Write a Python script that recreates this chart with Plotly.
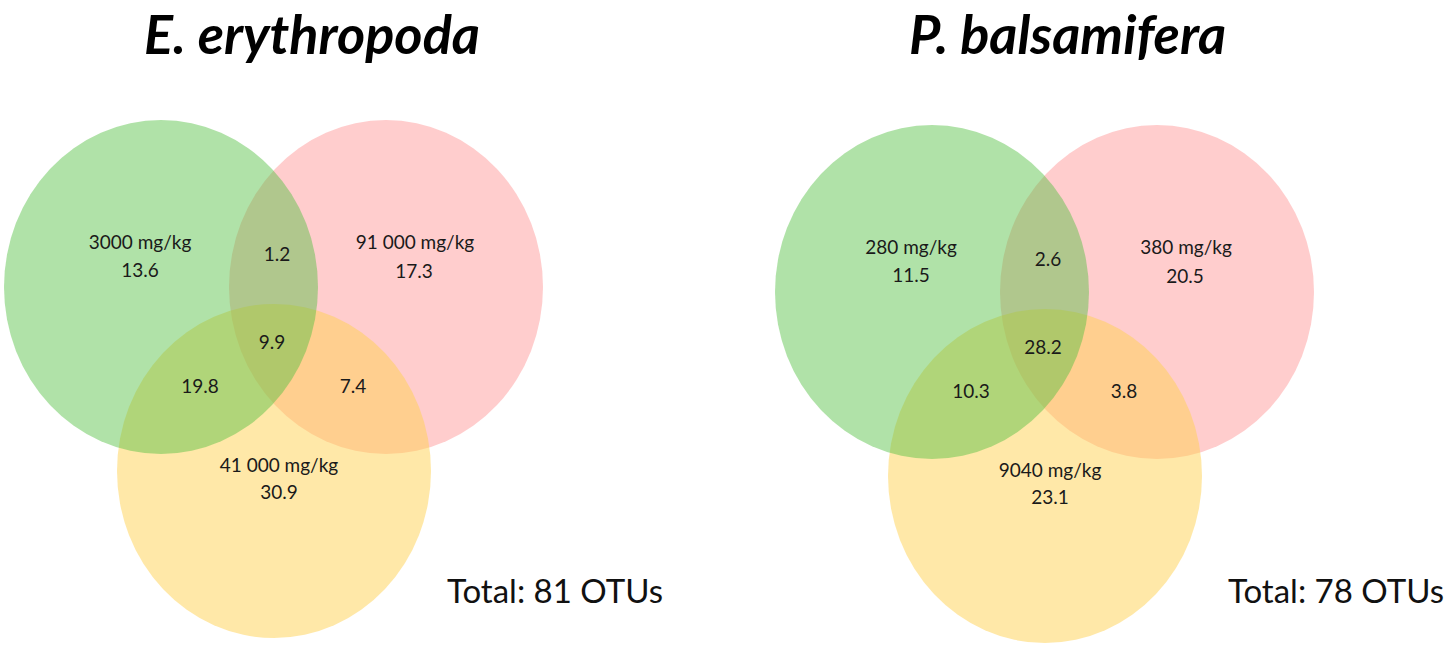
import plotly.graph_objects as go

# ---------------- data ----------------
species = ["E. erythropoda", "P. balsamifera"]
set_labels = [
    ["3000 mg/kg", "91 000 mg/kg", "41 000 mg/kg"],
    ["280 mg/kg", "380 mg/kg", "9040 mg/kg"],
]
# region order: green only, pink only, yellow only, green∩pink, green∩yellow, pink∩yellow, all three
region_values = [
    [13.6, 17.3, 30.9, 1.2, 19.8, 7.4, 9.9],
    [11.5, 20.5, 23.1, 2.6, 10.3, 3.8, 28.2],
]
totals = [81, 78]

# ---------------- geometry (pixels of the page) ----------------
W, H = 1450, 648
panel_origin = [(161, 287), (932, 292)]          # centre of the green set
set_centres = [(0, 0), (225, 0), (113, 184)]     # green, pink, yellow, relative to origin
set_rx, set_ry = 157, 167
draw_order = [1, 2, 0]                            # pink, yellow, then green on top
fills = {0: "rgba(82,192,66,0.46)", 1: "rgba(255,102,102,0.33)", 2: "rgba(255,209,81,0.5)"}
set_label_off = [(-21, -43), (254, -43), (118, 180)]
set_value_off = [(-21, -15), (253, -14), (118, 207)]
inter_off = [(116, -31), (39, 101), (192, 101), (111, 57)]
title_pos = [(312, 0), (1067, 0)]
total_pos = [(555, 590), (1336, 590)]

fig = go.Figure()
shapes = []
annotations = []

for p in range(2):
    ox, oy = panel_origin[p]
    for s in draw_order:
        cx, cy = set_centres[s]
        shapes.append(dict(
            type="circle", xref="x", yref="y",
            x0=ox + cx - set_rx, x1=ox + cx + set_rx,
            y0=oy + cy - set_ry, y1=oy + cy + set_ry,
            fillcolor=fills[s], line=dict(width=0), layer="below",
        ))
    xs, ys, txt = [], [], []
    for s in range(3):
        xs.append(ox + set_label_off[s][0]); ys.append(oy + set_label_off[s][1]); txt.append(set_labels[p][s])
        xs.append(ox + set_value_off[s][0]); ys.append(oy + set_value_off[s][1]); txt.append(f"{region_values[p][s]:.1f}")
    for k in range(4):
        xs.append(ox + inter_off[k][0]); ys.append(oy + inter_off[k][1]); txt.append(f"{region_values[p][3 + k]:.1f}")
    fig.add_trace(go.Scatter(
        x=xs, y=ys, text=txt, mode="text", textposition="middle center",
        textfont=dict(family="Lato", size=19, color="#1a1a1a"),
        hoverinfo="skip", showlegend=False,
    ))
    annotations.append(dict(
        x=title_pos[p][0], y=title_pos[p][1], xref="x", yref="y",
        text=f"<b><i>{species[p]}</i></b>", showarrow=False,
        font=dict(family="Lato", size=54, color="#000000"),
        xanchor="center", yanchor="top", borderpad=0,
    ))
    annotations.append(dict(
        x=total_pos[p][0], y=total_pos[p][1], xref="x", yref="y",
        text=f"Total: {totals[p]} OTUs", showarrow=False,
        font=dict(family="Lato", size=33, color="#111111"),
        xanchor="center", yanchor="middle",
    ))

fig.update_layout(
    width=W, height=H,
    margin=dict(l=0, r=0, t=0, b=0),
    paper_bgcolor="white", plot_bgcolor="white",
    xaxis=dict(range=[0, W], visible=False, fixedrange=True),
    yaxis=dict(range=[H, 0], visible=False, fixedrange=True),
    shapes=shapes, annotations=annotations,
)

fig.write_html("out.html", config={"displayModeBar": False},
               post_script="document.body.style.margin='0';")
